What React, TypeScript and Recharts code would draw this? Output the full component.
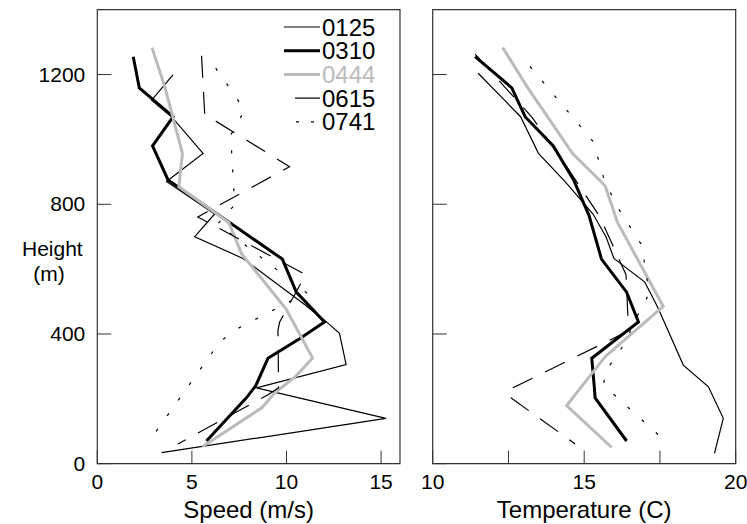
import React from 'react';
import { ScatterChart, Scatter, XAxis, YAxis, ReferenceArea } from 'recharts';

// [height (m), value] pairs
const speed0125: [number, number][] = [
  [1199, 4.0], [1121, 2.87], [1070, 3.92], [957, 5.59], [870, 3.66], [770, 6.2], [700, 5.15],
  [633, 7.7], [495, 10.87], [438, 12.1], [402, 12.8], [306, 13.15], [234, 8.41], [140, 15.26], [34, 3.4],
];
const speed0310: [number, number][] = [
  [1255, 1.9], [1159, 2.22], [1070, 4.01], [980, 2.92], [875, 3.74], [765, 6.47], [631, 9.78],
  [529, 10.52], [437, 12.01], [385, 10.69], [325, 9.02], [240, 8.37], [203, 7.88], [70, 5.77],
];
const speed0444: [number, number][] = [
  [1283, 2.89], [1162, 3.57], [957, 4.5], [854, 4.31], [744, 6.95], [647, 7.63], [477, 9.98],
  [326, 11.38], [269, 10.48], [218, 9.37], [173, 8.71], [52, 5.55],
];
const speed0615: [number, number][] = [
  [1258, 5.51], [1075, 5.68], [1068, 5.94], [916, 10.16], [761, 5.31], [583, 11.01], [437, 9.64],
  [412, 9.55], [234, 9.58], [212, 9.0], [61, 4.26],
];
const speed0741: [number, number][] = [
  [1220, 6.26], [1091, 7.79], [1013, 7.05], [798, 7.26], [740, 6.37], [527, 11.06], [412, 7.26],
  [375, 6.47], [73, 2.78],
];

const temp0125: [number, number][] = [
  [1204, 11.5], [1121, 12.37], [1070, 12.9], [957, 13.49], [870, 14.37], [770, 15.29], [700, 15.72],
  [633, 15.98], [560, 17.0], [495, 17.36], [467, 17.5], [304, 18.27], [237, 19.1], [140, 19.59], [32, 19.3],
];
const temp0310: [number, number][] = [
  [1255, 11.4], [1159, 12.61], [1070, 13.05], [980, 13.98], [875, 14.65], [765, 15.16], [631, 15.57],
  [529, 16.4], [437, 16.79], [325, 15.25], [240, 15.33], [203, 15.36], [70, 16.4],
];
const temp0444: [number, number][] = [
  [1283, 12.31], [1156, 13.16], [1070, 13.79], [957, 14.61], [857, 15.69], [744, 16.1], [485, 17.61],
  [330, 15.69], [179, 14.42], [50, 15.91],
];
const temp0615: [number, number][] = [
  [1263, 11.4], [1068, 13.28], [915, 14.43], [761, 15.52], [583, 16.38], [437, 16.45], [409, 16.45],
  [234, 12.65], [212, 12.45], [61, 14.7],
];
const temp0741: [number, number][] = [
  [1225, 13.21], [993, 15.3], [885, 15.63], [798, 16.05], [674, 16.9], [527, 17.14], [474, 16.9],
  [438, 16.59], [387, 16.46], [289, 15.74], [243, 15.63], [73, 17.64],
];

const names = ['0125', '0310', '0444', '0615', '0741'];
const heightTicks = [0, 400, 800, 1200];
const speedTicks = [0, 5, 10, 15];
const tempTicks = [10, 12.5, 15, 17.5, 20];
const tempLabels = [10, 15, 20];

const styles: Record<string, { stroke: string; width: number; dash?: string }> = {
  '0125': { stroke: '#000', width: 1.2 },
  '0310': { stroke: '#000', width: 3 },
  '0444': { stroke: '#bbbbbb', width: 3 },
  '0615': { stroke: '#000', width: 1.2, dash: '22 14' },
  '0741': { stroke: '#000', width: 1.2, dash: '3 16' },
};

const FONT = '"Liberation Sans", Arial, sans-serif';
const toRows = (pairs: [number, number][]) => pairs.map(([h, v]) => ({ h, v }));

const XTick = ({ x, y, payload, labels }: any) => (
  <g>
    <line x1={x} x2={x} y1={y} y2={y - 13} stroke="#333" strokeWidth={1} />
    {(!labels || labels.includes(payload.value)) && (
      <text x={x} y={y + 25} textAnchor="middle" fontSize={21} fontFamily={FONT} fill="#000">
        {payload.value}
      </text>
    )}
  </g>
);

const YTick = ({ x, y, payload, showLabel }: any) => (
  <g>
    <line x1={x} x2={x + 14} y1={y} y2={y} stroke="#333" strokeWidth={1} />
    {showLabel && (
      <text x={x - 12} y={y + 7} textAnchor="end" fontSize={21} fontFamily={FONT} fill="#000">
        {payload.value}
      </text>
    )}
  </g>
);

const LegendBox = () => (
  <svg width={110} height={125} style={{ fontFamily: FONT, display: 'block' }}>
    {names.map((n, i) => {
      const s = styles[n];
      const y = 12 + i * 23.7;
      const x1 = n === '0615' ? 11 : n === '0741' ? 12 : 0;
      return (
        <g key={n}>
          <line x1={x1} x2={36} y1={y} y2={y} stroke={s.stroke} strokeWidth={s.width}
            strokeDasharray={n === '0741' ? '3 12' : undefined} />
          <text x={38} y={y + 8.5} fontSize={24} fill={n === '0444' ? '#bbbbbb' : '#000'}>{n}</text>
        </g>
      );
    })}
  </svg>
);

const series = (sets: [number, number][][]) =>
  names.map((n, i) => {
    const s = styles[n];
    return (
      <Scatter key={n} name={n} data={toRows(sets[i])} fill={s.stroke} shape={() => <g />}
        line={{ stroke: s.stroke, strokeWidth: s.width, strokeDasharray: s.dash, fill: 'none' }}
        lineType="joint" isAnimationActive={false} />
    );
  });

export default function App() {
  return (
    <div style={{ position: 'absolute', left: 0, top: 0, width: 747, height: 524, background: '#fff', fontFamily: FONT }}>
      <div style={{ position: 'absolute', left: 0, top: 0 }}>
        <ScatterChart width={420} height={524} margin={{ top: 9.7, right: 20, bottom: 0, left: 0 }}>
          <XAxis type="number" dataKey="v" domain={[0, 16]} ticks={speedTicks} height={60.3}
            axisLine={false} tickLine={false} tickSize={0} tickMargin={0} allowDataOverflow
            tick={<XTick />}
            label={{ value: 'Speed (m/s)', position: 'insideBottom', offset: 6, fontSize: 24, fill: '#000', fontFamily: FONT }} />
          <YAxis type="number" dataKey="h" domain={[0, 1400]} ticks={heightTicks} width={97.3}
            axisLine={false} tickLine={false} tickSize={0} tickMargin={0} allowDataOverflow
            tick={(p: any) => <YTick {...p} showLabel />} />
          <ReferenceArea x1={0} x2={16} y1={0} y2={1400} fill="none" stroke="#333" strokeWidth={1.2} ifOverflow="visible" />
          {series([speed0125, speed0310, speed0444, speed0615, speed0741])}
        </ScatterChart>
        <div style={{ position: 'absolute', left: 22, top: 236, fontSize: 21, lineHeight: '25px', textAlign: 'center', width: 54 }}>
          Height<br />(m)
        </div>
        <div style={{ position: 'absolute', left: 284, top: 15 }}>
          <LegendBox />
        </div>
      </div>
      <div style={{ position: 'absolute', left: 420, top: 0 }}>
        <ScatterChart width={327} height={524} margin={{ top: 9.7, right: 11.3, bottom: 0, left: 0 }}>
          <XAxis type="number" dataKey="v" domain={[10, 20]} ticks={tempTicks} height={60.3}
            axisLine={false} tickLine={false} tickSize={0} tickMargin={0} allowDataOverflow
            tick={<XTick labels={tempLabels} />}
            label={{ value: 'Temperature (C)', position: 'insideBottom', offset: 6, fontSize: 24, fill: '#000', fontFamily: FONT }} />
          <YAxis type="number" dataKey="h" domain={[0, 1400]} ticks={heightTicks} width={12.7}
            axisLine={false} tickLine={false} tickSize={0} tickMargin={0} allowDataOverflow
            tick={<YTick />} />
          <ReferenceArea x1={10} x2={20} y1={0} y2={1400} fill="none" stroke="#333" strokeWidth={1.2} ifOverflow="visible" />
          {series([temp0125, temp0310, temp0444, temp0615, temp0741])}
        </ScatterChart>
      </div>
    </div>
  );
}
